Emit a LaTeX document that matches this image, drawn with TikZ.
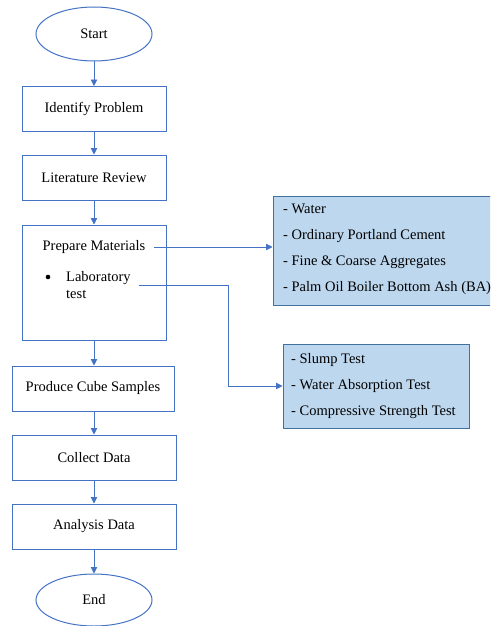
\documentclass[tikz,border=0pt]{standalone}
\usepackage{fontspec}
\setmainfont{Liberation Serif}
\usetikzlibrary{shapes.geometric,arrows.meta}
\definecolor{lineblue}{HTML}{4472C4}
\definecolor{boxedge}{HTML}{41719C}
\definecolor{boxfill}{HTML}{BDD7EE}
\tikzset{
  txt/.style={font=\fontsize{14.5}{17}\selectfont},
  stepbox/.style={draw=lineblue, line width=1pt, fill=white, minimum width=#1, minimum height=45pt, inner sep=0pt, txt},
  terminal/.style={ellipse, draw=lineblue, line width=1pt, minimum width=116pt, minimum height=54pt, inner sep=0pt, txt},
  listbox/.style={draw=boxedge, line width=1pt, fill=boxfill, inner sep=0pt},
  listtxt/.style={align=left, inner sep=0pt, font=\fontsize{14.5}{26}\selectfont},
  arr/.style={draw=lineblue, line width=0.9pt, -{Triangle[width=6.5pt,length=6.5pt]}}
}
\begin{document}
\begin{tikzpicture}[x=1pt,y=-1pt]
\useasboundingbox (0,0) rectangle (490,626);
\clip (0,0) rectangle (490,626);

% main column
\node[terminal] (start) at (94,34) {Start};
\node[stepbox=144pt] (ident) at (94,109) {Identify Problem};
\node[stepbox=144pt] (lit) at (94,177.5) {Literature Review};
\node[stepbox=144pt, minimum height=115pt] (prep) at (94,282.5) {};
\node[stepbox=162pt] (cube) at (93,388.5) {Produce Cube Samples};
\node[stepbox=164pt] (collect) at (94,457.5) {Collect Data};
\node[stepbox=164pt] (analysis) at (94,526.5) {Analysis Data};
\node[terminal, minimum height=52pt] (end) at (94,600) {End};

% contents of the preparation step
\node[txt, inner sep=0pt] (pm) at (94,247) {Prepare Materials};
\node[circle, fill=black, inner sep=0pt, minimum size=4.6pt] (bullet) at (48,277) {};
\node[txt, inner sep=0pt, align=left, anchor=west] (lab) at (66,285.5) {Laboratory\\test};

% side lists
\node[listbox, minimum width=224pt, minimum height=109pt] (mat) at (385,250.5) {};
\node[listtxt, anchor=west] (mattxt) at (283,249) {- Water\\- Ordinary Portland Cement\\- Fine \& Coarse Aggregates\\- Palm Oil Boiler Bottom Ash (BA)};
\node[listbox, minimum width=186pt, minimum height=84pt] (tests) at (376,386) {};
\node[listtxt, anchor=west] (teststxt) at (291,386) {- Slump Test\\- Water Absorption Test\\- Compressive Strength Test};

% connectors
\coordinate (bend) at (228,0);
\draw[arr] (start.south) -- (ident.north);
\draw[arr] (ident.south) -- (lit.north);
\draw[arr] (lit.south) -- (prep.north);
\draw[arr] (prep.south) -- (prep.south |- cube.north);
\draw[arr] (cube.south -| collect.south) -- (collect.north);
\draw[arr] (collect.south) -- (analysis.north);
\draw[arr] (analysis.south) -- (end.north);
\draw[arr] ([xshift=8pt]pm.east) -- (pm.east -| mat.west);
\draw[arr] ([xshift=8pt]lab.east) -- (lab.east -| bend) |- (tests.west);
\end{tikzpicture}
\end{document}
